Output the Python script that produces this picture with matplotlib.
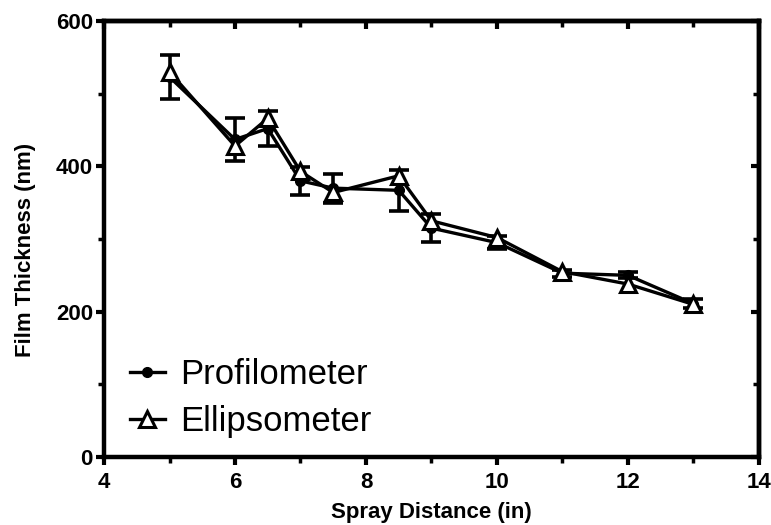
import matplotlib
matplotlib.use("Agg")
import matplotlib.pyplot as plt
from matplotlib.lines import Line2D
from matplotlib.ticker import MultipleLocator

plt.rcParams['font.family'] = ['Liberation Sans', 'DejaVu Sans']

# Spray distance (in) and measured film thickness (nm)
distance = [5, 6, 6.5, 7, 7.5, 8.5, 9, 10, 11, 12, 13]
profilometer = [523, 437, 452, 380, 370, 367, 315, 295, 253, 250, 211]
profilometer_err = [30, 29, 24, 19, 20, 28, 19, 9, 5, 4, 6]
ellipsometer = [530, 428, 466, 393, 364, 387, 325, 302, 255, 238, 210]

fig = plt.figure(figsize=(7.71, 5.25), dpi=100)
ax = fig.add_axes([0.1349, 0.1295, 0.8495, 0.8305])

ax.errorbar(distance, profilometer, yerr=profilometer_err, color='black',
            lw=2.4, marker='o', ms=7, mfc='black', mec='black',
            ecolor='black', elinewidth=2.6, capsize=7, capthick=2.6,
            zorder=3)
ax.plot(distance, ellipsometer, color='black', lw=2.4, marker='^', ms=11,
        mfc='white', mec='black', mew=2.2, zorder=4)

ax.set_xlim(4, 14)
ax.set_ylim(0, 600)
ax.xaxis.set_major_locator(MultipleLocator(2))
ax.xaxis.set_minor_locator(MultipleLocator(1))
ax.yaxis.set_major_locator(MultipleLocator(200))
ax.yaxis.set_minor_locator(MultipleLocator(100))

for s in ax.spines.values():
    s.set_linewidth(3.2)

ax.tick_params(which='major', direction='out', length=6, width=3,
               labelsize=16, pad=2)
ax.tick_params(axis='x', which='major', pad=5)
ax.tick_params(which='minor', direction='out', length=4, width=2.5)
for lab in ax.get_xticklabels() + ax.get_yticklabels():
    lab.set_fontweight('bold')

# inward ticks on the top and right edges
top = ax.secondary_xaxis('top')
top.xaxis.set_major_locator(MultipleLocator(2))
top.xaxis.set_minor_locator(MultipleLocator(1))
top.tick_params(which='major', direction='in', length=6, width=3, labeltop=False)
top.tick_params(which='minor', direction='in', length=4, width=2.5)
right = ax.secondary_yaxis('right')
right.yaxis.set_major_locator(MultipleLocator(200))
right.yaxis.set_minor_locator(MultipleLocator(100))
right.tick_params(which='major', direction='in', length=6, width=3, labelright=False)
right.tick_params(which='minor', direction='in', length=4, width=2.5)
for s in list(top.spines.values()) + list(right.spines.values()):
    s.set_linewidth(3.2)

ax.set_xlabel('Spray Distance (in)', fontsize=16, fontweight='bold', labelpad=6)
ax.set_ylabel('Film Thickness (nm)', fontsize=16, fontweight='bold')
ax.yaxis.set_label_coords(-0.104, 0.475)

handles = [
    Line2D([], [], color='black', lw=2.4, marker='o', ms=7, mfc='black'),
    Line2D([], [], color='black', lw=2.4, marker='^', ms=11, mfc='white', mew=2.2),
]
ax.legend(handles, ['Profilometer', 'Ellipsometer'], loc='lower left',
          frameon=False, fontsize=25, handlelength=1.0, handletextpad=0.45,
          labelspacing=0.4, borderaxespad=0.2, borderpad=0.4,
          bbox_to_anchor=(0.008, -0.005))

fig.savefig('out.png', dpi=100)
